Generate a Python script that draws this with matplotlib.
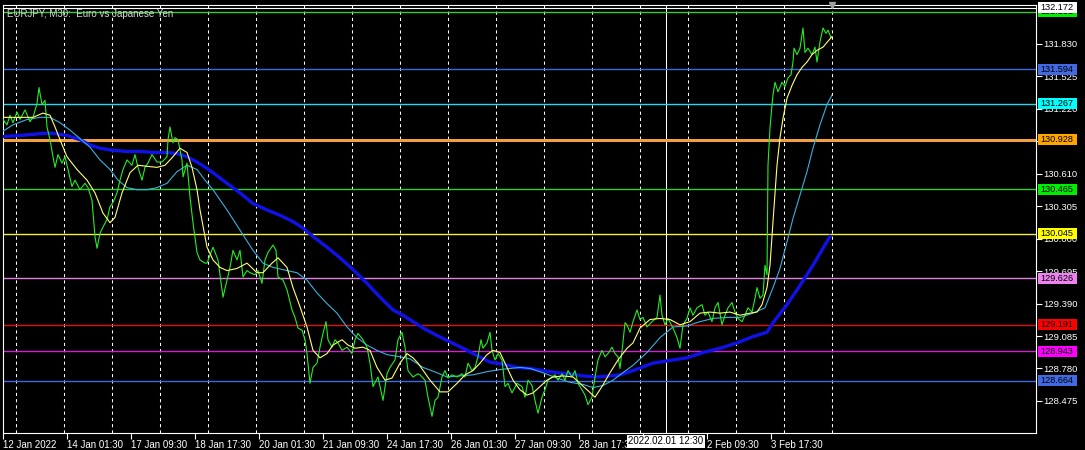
import numpy as np
import matplotlib.pyplot as plt
from matplotlib.patches import Rectangle
from matplotlib.transforms import blended_transform_factory

plt.rcParams['font.family'] = ['Liberation Sans', 'DejaVu Sans']

# EURJPY M30 close (bar = position on the time axis)
bar = [3, 7, 10, 13, 17, 20, 25, 30, 33, 37, 39, 42, 45, 47, 50, 53, 55, 58, 62, 65,
       68, 72, 75, 80, 85, 88, 92, 95, 97, 100, 103, 107, 110, 113, 117, 120, 123, 127, 132, 135,
       138, 142, 145, 148, 152, 157, 162, 167, 168, 170, 173, 175, 178, 182, 183, 187, 190, 193, 197, 200,
       205, 207, 213, 218, 223, 227, 230, 233, 237, 240, 243, 247, 250, 255, 258, 262, 265, 268, 273, 276,
       278, 283, 287, 292, 295, 298, 302, 305, 307, 310, 313, 317, 320, 323, 326, 328, 332, 335, 338, 342,
       347, 352, 355, 358, 363, 367, 370, 373, 378, 383, 387, 390, 395, 398, 402, 405, 408, 413, 418, 420,
       425, 428, 432, 435, 438, 442, 445, 448, 452, 457, 462, 465, 468, 472, 475, 478, 481, 483, 487, 490,
       492, 495, 498, 502, 505, 508, 512, 517, 522, 525, 528, 532, 535, 538, 542, 545, 548, 552, 555, 558,
       562, 565, 568, 572, 575, 578, 582, 585, 588, 592, 595, 598, 602, 605, 608, 612, 615, 618, 620, 623,
       625, 627, 630, 633, 637, 640, 643, 647, 652, 657, 660, 662, 665, 668, 673, 677, 680, 683, 687, 690,
       693, 697, 702, 705, 708, 712, 715, 718, 722, 725, 728, 732, 735, 738, 742, 745, 748, 752, 755, 757,
       760, 763, 765, 767, 768, 770, 772, 773, 775, 778, 782, 785, 788, 791, 793, 794, 797, 800, 803, 805,
       808, 812, 815, 817, 820, 823, 826, 828, 831]
close = [131.12, 131.07, 131.16, 131.09, 131.19, 131.12, 131.21, 131.10, 131.14, 131.27, 131.42, 131.26, 131.30, 131.05, 130.93, 130.77, 130.67, 130.79, 130.71, 130.77,
         130.65, 130.49, 130.55, 130.46, 130.52, 130.48, 130.36, 130.02, 129.91, 130.05, 130.11, 130.18, 130.30, 130.34, 130.43, 130.55, 130.65, 130.74, 130.69, 130.79,
         130.67, 130.55, 130.67, 130.71, 130.79, 130.72, 130.72, 130.77, 130.93, 131.05, 130.90, 130.95, 130.93, 130.74, 130.58, 130.71, 130.39, 130.15, 129.87, 129.80,
         129.77, 129.77, 129.92, 129.80, 129.45, 129.61, 129.73, 129.89, 129.80, 129.89, 129.64, 129.70, 129.68, 129.66, 129.70, 129.58, 129.80, 129.87, 129.94, 129.89,
         129.64, 129.61, 129.52, 129.33, 129.26, 129.16, 129.14, 129.05, 128.92, 128.64, 128.79, 128.83, 128.98, 129.11, 129.22, 129.05, 128.98, 129.05, 129.02, 128.95,
         128.98, 128.92, 129.05, 129.11, 129.05, 128.98, 128.83, 128.61, 128.70, 128.48, 128.73, 128.79, 128.86, 129.05, 129.12, 128.98, 128.76, 128.70, 128.73, 128.72,
         128.67, 128.51, 128.33, 128.48, 128.51, 128.70, 128.76, 128.69, 128.72, 128.70, 128.73, 128.70, 128.83, 128.76, 128.79, 128.89, 129.05, 128.97, 129.02, 129.12,
         128.95, 128.86, 128.92, 128.86, 128.61, 128.64, 128.55, 128.64, 128.61, 128.51, 128.67, 128.62, 128.48, 128.36, 128.51, 128.58, 128.67, 128.70, 128.72, 128.67,
         128.73, 128.67, 128.76, 128.70, 128.76, 128.64, 128.58, 128.53, 128.44, 128.51, 128.70, 128.86, 128.95, 128.89, 128.92, 128.98, 128.92, 128.89, 128.78, 129.03,
         129.21, 129.19, 129.12, 129.22, 129.33, 129.24, 129.26, 129.17, 129.22, 129.26, 129.47, 129.28, 129.19, 129.25, 129.16, 129.07, 128.97, 129.19, 129.25, 129.35,
         129.28, 129.35, 129.38, 129.28, 129.31, 129.22, 129.35, 129.40, 129.19, 129.28, 129.35, 129.40, 129.31, 129.25, 129.22, 129.28, 129.35, 129.31, 129.44, 129.54,
         129.44, 129.47, 129.75, 129.66, 130.69, 131.04, 131.26, 131.35, 131.47, 131.38, 131.47, 131.43, 131.51, 131.54, 131.66, 131.79, 131.73, 131.79, 131.98, 131.75,
         131.79, 131.73, 131.80, 131.66, 131.85, 131.98, 131.93, 131.96, 131.89]

# fast moving average (yellow)
fast_bar = [3, 20, 33, 43, 50, 55, 60, 67, 77, 87, 95, 103, 110, 115, 122, 130, 138, 147, 157, 165,
            172, 180, 187, 192, 197, 200, 207, 213, 220, 227, 237, 247, 257, 263, 272, 278, 287, 293, 300, 307,
            313, 320, 327, 333, 342, 348, 355, 363, 370, 377, 385, 392, 400, 407, 413, 418, 430, 440, 448, 457,
            465, 473, 480, 487, 493, 500, 507, 513, 520, 527, 533, 540, 547, 553, 563, 573, 580, 587, 595, 602,
            610, 618, 627, 633, 640, 650, 660, 670, 680, 690, 700, 710, 720, 730, 740, 750, 757, 762, 767, 770,
            773, 777, 780, 783, 787, 792, 797, 802, 807, 812, 817, 823, 832]
fast_ma = [131.14, 131.14, 131.14, 131.18, 131.16, 131.05, 130.93, 130.77, 130.65, 130.55, 130.43, 130.24, 130.15, 130.20, 130.43, 130.62, 130.69, 130.68, 130.67, 130.69,
           130.76, 130.85, 130.81, 130.67, 130.46, 130.27, 129.92, 129.80, 129.73, 129.70, 129.72, 129.77, 129.68, 129.68, 129.77, 129.82, 129.73, 129.54, 129.36, 129.17,
           128.95, 128.88, 128.92, 129.00, 129.05, 129.00, 128.97, 128.98, 128.95, 128.79, 128.67, 128.69, 128.83, 128.92, 128.88, 128.83, 128.67, 128.56, 128.56, 128.64,
           128.72, 128.76, 128.83, 128.91, 128.95, 128.93, 128.79, 128.67, 128.58, 128.53, 128.55, 128.61, 128.67, 128.70, 128.71, 128.70, 128.64, 128.58, 128.51, 128.61,
           128.74, 128.86, 128.97, 129.02, 129.16, 129.24, 129.25, 129.24, 129.19, 129.22, 129.30, 129.31, 129.30, 129.31, 129.28, 129.30, 129.31, 129.38, 129.54, 129.75,
           130.16, 130.69, 130.95, 131.13, 131.32, 131.44, 131.54, 131.61, 131.66, 131.73, 131.77, 131.80, 131.90]

# medium moving average (light blue)
mid_bar = [3, 13, 27, 40, 50, 60, 70, 80, 90, 100, 110, 118, 127, 137, 147, 157, 167, 177, 187, 197,
           205, 213, 227, 240, 253, 263, 273, 287, 297, 307, 317, 327, 337, 347, 357, 367, 377, 387, 400, 410,
           423, 437, 447, 460, 473, 487, 500, 510, 520, 530, 543, 557, 570, 583, 593, 603, 613, 620, 633, 647,
           660, 673, 687, 700, 713, 727, 740, 753, 765, 773, 780, 787, 793, 800, 807, 813, 820, 827, 832]
mid_ma = [131.01, 131.07, 131.12, 131.14, 131.14, 131.09, 131.02, 130.94, 130.86, 130.74, 130.65, 130.55, 130.48, 130.46, 130.46, 130.48, 130.52, 130.63, 130.69, 130.65,
          130.55, 130.46, 130.27, 130.08, 129.89, 129.77, 129.73, 129.70, 129.68, 129.61, 129.49, 129.39, 129.30, 129.17, 129.07, 129.00, 128.95, 128.91, 128.89, 128.87,
          128.79, 128.74, 128.70, 128.71, 128.72, 128.75, 128.77, 128.78, 128.79, 128.78, 128.74, 128.69, 128.65, 128.63, 128.60, 128.62, 128.67, 128.72, 128.81, 128.93,
          129.07, 129.17, 129.18, 129.22, 129.25, 129.26, 129.26, 129.30, 129.35, 129.54, 129.72, 129.97, 130.19, 130.41, 130.63, 130.85, 131.07, 131.26, 131.35]

# slow moving average (blue, thick)
slow_bar = [3, 20, 33, 43, 53, 67, 80, 90, 100, 113, 127, 140, 153, 167, 177, 187, 197, 207, 213, 227,
            240, 253, 267, 280, 293, 303, 313, 327, 340, 353, 367, 380, 393, 403, 413, 423, 437, 450, 463, 477,
            490, 503, 517, 530, 543, 557, 570, 583, 597, 610, 620, 633, 653, 673, 687, 703, 720, 737, 753, 767,
            773, 787, 800, 813, 823, 830]
slow_ma = [130.96, 130.97, 130.98, 130.99, 130.99, 130.97, 130.93, 130.88, 130.85, 130.83, 130.82, 130.82, 130.81, 130.81, 130.80, 130.77, 130.72, 130.66, 130.62, 130.52,
           130.43, 130.33, 130.27, 130.22, 130.16, 130.10, 130.02, 129.92, 129.82, 129.71, 129.58, 129.45, 129.33, 129.28, 129.22, 129.16, 129.09, 129.03, 128.97, 128.90,
           128.84, 128.82, 128.79, 128.78, 128.76, 128.74, 128.73, 128.71, 128.70, 128.71, 128.72, 128.76, 128.83, 128.86, 128.88, 128.93, 128.97, 129.02, 129.08, 129.12,
           129.21, 129.38, 129.56, 129.75, 129.91, 130.02]

# horizontal levels
levels = [132.131, 131.594, 131.267, 130.928, 130.465, 130.045, 129.626, 129.191, 128.943, 128.664]
level_line_colors = ['#32cd32', '#4169e1', '#20d8f0', '#f0a040', '#32cd32', '#f0f040', '#e080e0', '#e01010', '#d020d0', '#4169e1']
level_box_colors = ['#00ee00', '#4169e1', '#00ffff', '#ffa500', '#00ee00', '#ffff00', '#ee82ee', '#ff0000', '#ff00ff', '#4169e1']
bid = 132.172

price_ticks = [131.830, 131.525, 131.220, 130.915, 130.610, 130.305, 130.000, 129.695, 129.390, 129.085, 128.780, 128.475]
price_tick_labels = ['131.830', '131.525', '131.220', '', '130.610', '130.305', '130.000', '129.695', '129.390', '129.085', '128.780', '128.475']
time_ticks = [3, 67, 131, 195, 259, 323, 387, 451, 515, 579, 643, 707, 771]
time_labels = ['12 Jan 2022', '14 Jan 01:30', '17 Jan 09:30', '18 Jan 17:30', '20 Jan 01:30', '21 Jan 09:30',
               '24 Jan 17:30', '26 Jan 01:30', '27 Jan 09:30', '28 Jan 17:30', '', '2 Feb 09:30', '3 Feb 17:30']
cursor_bar = 666
cursor_label = '2022.02.01 12:30'
last_bar = 832

fig = plt.figure(figsize=(10.85, 4.5), dpi=100)
fig.patch.set_facecolor('black')
ax = fig.add_axes([3 / 1085, 17 / 450, 1033 / 1085, 428 / 450])
ax.set_facecolor('black')
ax.set_xlim(3, 1036)
ax.set_ylim(128.1735, 132.196)

for s in ax.spines.values():
    s.set_color('white')
    s.set_linewidth(0.8)

# day separators
for x in range(16, last_bar + 1, 48):
    ax.axvline(x, color='white', lw=0.75, ls=(0, (3, 3)), zorder=1)
ax.axvline(cursor_bar, color='white', lw=0.75, zorder=1)

for lv, c in zip(levels, level_line_colors):
    ax.axhline(lv, color=c, lw=2.2 if lv == 130.928 else 1.0, zorder=2)
ax.axhline(bid, color='white', lw=0.8, zorder=2)

ax.plot(slow_bar, slow_ma, color='#1010e8', lw=2.4, zorder=3)
ax.plot(mid_bar, mid_ma, color='#38b0e0', lw=0.8, zorder=4)
ax.plot(bar, close, color='#22ee22', lw=0.8, zorder=5)
ax.plot(fast_bar, fast_ma, color='#ffff70', lw=0.8, zorder=6)

ax.plot(last_bar, 132.196, marker='v', color='#a0a0a0', ms=5, clip_on=False, zorder=7)

ax.text(0.004, 0.979, 'EURJPY, M30:  Euro vs Japanese Yen', transform=ax.transAxes,
        color='#d8d8d8', fontsize=7, ha='left', va='center', zorder=8)

ax.yaxis.tick_right()
ax.set_yticks(price_ticks)
ax.set_yticklabels(price_tick_labels)
ax.tick_params(axis='y', colors='white', labelsize=6.8, length=4, width=0.8, pad=1.5)
ax.set_xticks(time_ticks)
ax.set_xticklabels(time_labels, ha='left')
ax.tick_params(axis='x', colors='white', labelsize=7, length=4, width=0.8, pad=1)

# price labels on the right scale
tr = blended_transform_factory(ax.transAxes, ax.transData)
box_w = 39 / 1033
box_h = 11 / 106.4
tags = list(zip(levels, level_box_colors))[::-1] + [(bid, 'white')]
for i, (lv, c) in enumerate(tags):
    ax.add_patch(Rectangle((1.0019, lv - box_h / 2), box_w, box_h, transform=tr, fc=c, ec='none',
                           clip_on=False, zorder=10 + i))
    ax.text(1.0039, lv, '%.3f' % lv, transform=tr, ha='left', va='center', fontsize=6.6, color='black',
            clip_on=False, zorder=10 + i)

trx = blended_transform_factory(ax.transData, ax.transAxes)
ax.text(cursor_bar, -0.0195, cursor_label, transform=trx, ha='center', va='center', fontsize=7, color='black',
        bbox=dict(boxstyle='square,pad=0.15', fc='white', ec='none'), clip_on=False, zorder=30)

fig.savefig('out.png', dpi=100, facecolor='black')
